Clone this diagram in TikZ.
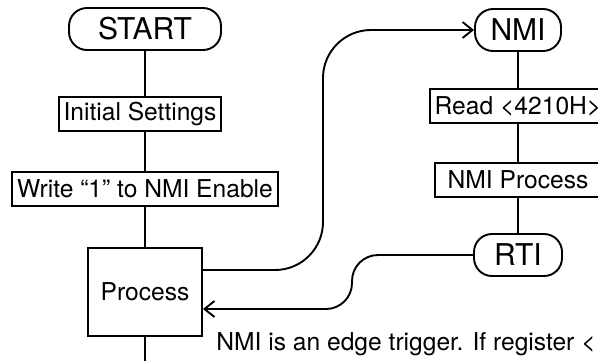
\documentclass[tikz,border=0pt]{standalone}
\usepackage{fontspec}
\setmainfont{TeX Gyre Heros}
\usetikzlibrary{positioning,arrows.meta}

\begin{document}
\begin{tikzpicture}[x=0.5pt, y=-0.5pt,
  term/.style={rectangle, draw, rounded corners=9pt, line width=0.95pt,
               font=\fontsize{15}{17}\selectfont, minimum width=#1, minimum height=21pt, inner sep=0pt},
  stepbox/.style={rectangle, draw, line width=0.95pt,
               font=\fontsize{12.3}{14}\selectfont, minimum width=#1, minimum height=17pt, inner sep=0pt},
  ln/.style={line width=0.95pt},
  ea/.style={line width=0.95pt, -{Straight Barb[length=5pt,width=8pt]}},
]
\useasboundingbox (0,0) rectangle (598,360);
\clip (0,0) rectangle (598,360);

% main program
\node[term=76pt]    (start) at (145,29)  {START};
\node[stepbox=81pt] (init)  at (140,114) {Initial Settings};
\node[stepbox=133pt](write) at (145,189) {Write “1” to NMI Enable};
\node[stepbox=57pt, minimum height=44pt] (proc) at (145,292) {Process};
\coordinate (out) at (145,370);

\foreach \a/\b in {start/init, init/write, write/proc}
  \draw[ln] (\a.south -| proc) -- (\b.north -| proc);
\draw[ln] (proc.south) -- (out);

% interrupt routine
\node[term=43pt]    (nmi)  at (518,30)  {NMI};
\node[stepbox=88pt] (read) at (518,106) {Read <4210H>};
\node[stepbox=83pt] (nmip) at (518,180) {NMI Process};
\node[term=44pt]    (rti)  at (518,255) {RTI};

\foreach \a/\b in {nmi/read, read/nmip, nmip/rti}
  \draw[ln] (\a.south -| rti) -- (\b.north -| rti);

% jump to NMI and return
\coordinate (up) at (323,150);
\coordinate (dn) at (352,280);
\coordinate (leave) at ([yshift=11pt]proc.east);
\coordinate (back)  at ([yshift=-8.5pt]proc.east);
\draw[ea, rounded corners=24pt] (leave) -| (nmi.west -| up) -- (nmi.west);
\draw[ea, rounded corners=13pt] (rti.west) -| (back -| dn) -- (back);

\node[font=\fontsize{12.3}{14}\selectfont, anchor=base west, inner sep=0pt] (note) at (216,350)
  {NMI is an edge trigger. If register <};

\end{tikzpicture}
\end{document}
